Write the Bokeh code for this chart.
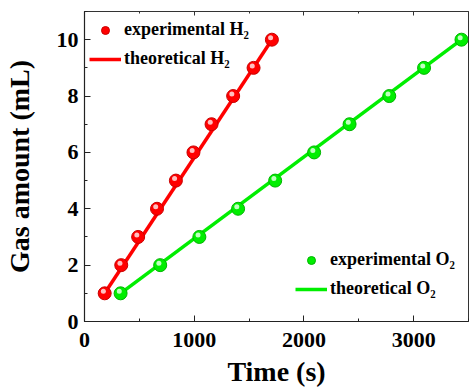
from bokeh.plotting import figure
from bokeh.models import (ColumnDataSource, Legend, LegendItem, LinearAxis,
                          SingleIntervalTicker, Range1d, CustomJSTickFormatter)
from bokeh.transform import dodge
from bokeh.embed import file_html
from bokeh.resources import INLINE

# ---- data ----
h2_time = [184, 335, 489, 661, 833, 993, 1158, 1355, 1541, 1708]
h2_vol = [1, 2, 3, 4, 5, 6, 7, 8, 9, 10]
o2_time = [329, 690, 1047, 1400, 1738, 2093, 2416, 2778, 3095, 3436]
o2_vol = [1, 2, 3, 4, 5, 6, 7, 8, 9, 10]
theo_h2_time = [184, 1708]
theo_h2_vol = [1, 10]
theo_o2_time = [329, 3436]
theo_o2_vol = [1, 10]

FONT = "Liberation Serif"

p = figure(width=469, height=390, output_backend="svg", toolbar_location=None,
           x_range=Range1d(0, 3500), y_range=Range1d(0, 11),
           min_border_left=82, min_border_right=1, min_border_top=11,
           min_border_bottom=69)
p.grid.visible = False
p.outline_line_color = "#333333"
p.outline_line_width = 1
p.background_fill_color = "white"
p.border_fill_color = "white"

h2 = ColumnDataSource(dict(t=h2_time, v=h2_vol))
o2 = ColumnDataSource(dict(t=o2_time, v=o2_vol))

RED, RED_EDGE, RED_HI = "#ff0000", "#c80000", "#ffc0c0"
GRN, GRN_EDGE, GRN_HI = "#00ee00", "#00b400", "#c0ffc0"

l_h2 = p.line(theo_h2_time, theo_h2_vol, line_color=RED, line_width=3.5)
l_o2 = p.line(theo_o2_time, theo_o2_vol, line_color=GRN, line_width=3.5)

s_h2 = p.scatter("t", "v", source=h2, size=13, fill_color=RED,
                 line_color=RED_EDGE, line_width=1)
p.scatter(dodge("t", -12), dodge("v", 0.07), source=h2, size=5,
          fill_color=RED_HI, line_color=None)
s_o2 = p.scatter("t", "v", source=o2, size=13, fill_color=GRN,
                 line_color=GRN_EDGE, line_width=1)
p.scatter(dodge("t", -12), dodge("v", 0.07), source=o2, size=5,
          fill_color=GRN_HI, line_color=None)

# axes styling
for ax in (p.xaxis[0], p.yaxis[0]):
    ax.axis_line_color = "#222222"
    ax.axis_line_width = 1.2
    ax.major_tick_line_color = "#222222"
    ax.minor_tick_line_color = "#222222"
    ax.major_tick_in = 6
    ax.major_tick_out = 0
    ax.minor_tick_in = 3
    ax.minor_tick_out = 0
    ax.major_label_text_font = FONT
    ax.major_label_text_font_style = "bold"
    ax.major_label_text_font_size = "22px"
    ax.major_label_text_color = "black"
    ax.axis_label_text_font = FONT
    ax.axis_label_text_font_style = "bold"
    ax.axis_label_text_font_size = "28px"
    ax.axis_label_text_color = "black"

p.xaxis[0].ticker = SingleIntervalTicker(interval=1000, num_minor_ticks=2)
p.yaxis[0].ticker = SingleIntervalTicker(interval=2, num_minor_ticks=2)
p.xaxis[0].axis_label = "Time (s)"
p.yaxis[0].axis_label = "Gas amount (mL)"
p.xaxis[0].major_label_standoff = 11
p.xaxis[0].axis_label_standoff = 6
p.yaxis[0].major_label_standoff = 6
p.yaxis[0].axis_label_standoff = 19

# mirrored top axis (ticks only)
top = LinearAxis(ticker=SingleIntervalTicker(interval=1000, num_minor_ticks=2),
                 formatter=CustomJSTickFormatter(code="return ''"))
top.major_label_standoff = 0
top.axis_line_color = "#333333"
top.axis_line_width = 1
top.major_tick_in = 4
top.major_tick_out = 0
top.minor_tick_in = 2
top.minor_tick_out = 0
top.major_tick_line_color = "#333333"
top.minor_tick_line_color = "#333333"
p.add_layout(top, "above")

def make_legend(items, loc):
    lg = Legend(items=items, location=loc, orientation="vertical")
    lg.background_fill_alpha = 0
    lg.border_line_color = None
    lg.label_text_font = FONT
    lg.label_text_font_style = "bold"
    lg.label_text_font_size = "18px"
    lg.label_text_color = "black"
    lg.glyph_width = 32
    lg.glyph_height = 20
    lg.label_height = 20
    lg.label_standoff = 3
    lg.spacing = 8
    lg.padding = 0
    lg.margin = 0
    return lg

leg1 = make_legend([
    LegendItem(label="experimental H\u2082", renderers=[s_h2]),
    LegendItem(label="theoretical H\u2082", renderers=[l_h2]),
], (5, 252))
leg2 = make_legend([
    LegendItem(label="experimental O\u2082", renderers=[s_o2]),
    LegendItem(label="theoretical O\u2082", renderers=[l_o2]),
], (211, 22))
p.add_layout(leg1)
p.add_layout(leg2)

open("out.html", "w").write(file_html(p, INLINE))
